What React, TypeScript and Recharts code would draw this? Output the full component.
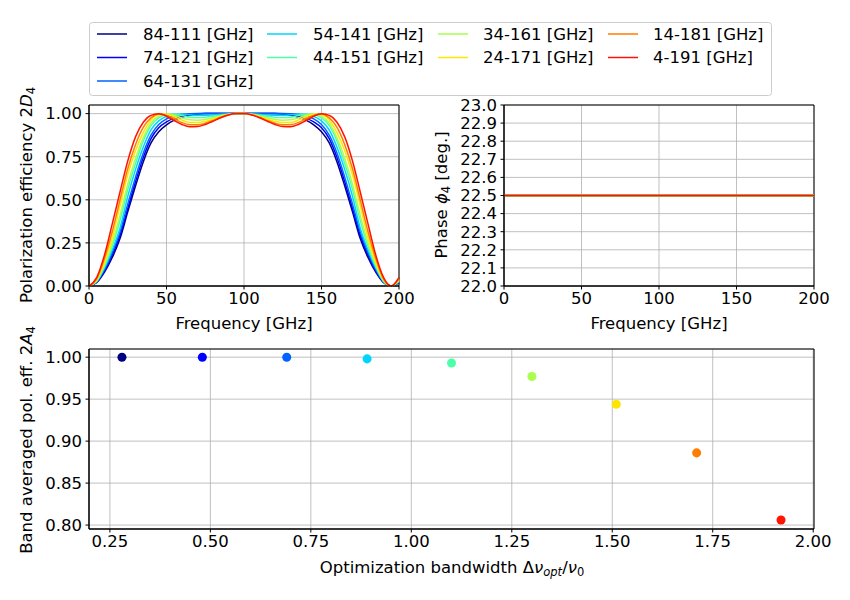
import React from "react";
import {
  LineChart,
  Line,
  ScatterChart,
  Scatter,
  XAxis,
  YAxis,
  ZAxis,
  CartesianGrid,
  ReferenceArea,
} from "recharts";

// optimization bands, one per curve
const bandNames = [
  "84-111 [GHz]",
  "74-121 [GHz]",
  "64-131 [GHz]",
  "54-141 [GHz]",
  "44-151 [GHz]",
  "34-161 [GHz]",
  "24-171 [GHz]",
  "14-181 [GHz]",
  "4-191 [GHz]",
];
const bandColors = [
  "#000080",
  "#0000ff",
  "#0063ff",
  "#00d4ff",
  "#4dffa9",
  "#a9ff4d",
  "#ffe600",
  "#ff7d00",
  "#ff1400",
];

const freqs = [
  0, 5, 10, 15, 20, 25, 30, 35, 40, 45, 50, 55, 60, 65, 70, 75, 80, 85, 90, 95,
  100, 105, 110, 115, 120, 125, 130, 135, 140, 145, 150, 155, 160, 165, 170, 175,
  180, 185, 190, 195, 200,
];

// polarization efficiency 2D_4 per band
const eff84 = [
  0, 0.02, 0.08, 0.165, 0.275, 0.43, 0.58, 0.72, 0.83, 0.895, 0.935, 0.962, 0.98, 0.991, 0.997, 1, 1, 1, 1, 1,
  1, 1, 1, 1, 1, 0.997, 0.991, 0.98, 0.962, 0.935, 0.895, 0.83, 0.72, 0.58, 0.43, 0.275, 0.165, 0.08, 0.02, 0, 0.02,
];
const eff74 = [
  0, 0.022, 0.088, 0.18, 0.295, 0.45, 0.605, 0.745, 0.855, 0.918, 0.952, 0.974, 0.988, 0.996, 0.999, 1, 1, 1, 1, 1,
  1, 1, 1, 1, 1, 0.999, 0.996, 0.988, 0.974, 0.952, 0.918, 0.855, 0.745, 0.605, 0.45, 0.295, 0.18, 0.088, 0.022, 0, 0.022,
];
const eff64 = [
  0, 0.024, 0.096, 0.195, 0.315, 0.475, 0.63, 0.77, 0.875, 0.937, 0.97, 0.988, 0.996, 0.999, 1, 1, 1, 1, 1, 1,
  1, 1, 1, 1, 1, 1, 0.999, 0.996, 0.988, 0.97, 0.937, 0.875, 0.77, 0.63, 0.475, 0.315, 0.195, 0.096, 0.024, 0, 0.024,
];
const eff54 = [
  0, 0.026, 0.105, 0.21, 0.335, 0.52, 0.675, 0.805, 0.905, 0.958, 0.984, 0.996, 0.997, 0.993, 0.99, 0.99, 0.992, 0.995, 0.998, 1,
  1, 0.998, 0.995, 0.992, 0.99, 0.99, 0.993, 0.997, 0.996, 0.984, 0.958, 0.905, 0.805, 0.675, 0.52, 0.335, 0.21, 0.105, 0.026, 0, 0.026,
];
const eff44 = [
  0, 0.029, 0.115, 0.23, 0.38, 0.56, 0.71, 0.84, 0.93, 0.975, 0.994, 0.997, 0.989, 0.979, 0.977, 0.979, 0.985, 0.991, 0.997, 1,
  1, 0.997, 0.991, 0.985, 0.979, 0.977, 0.979, 0.989, 0.997, 0.994, 0.975, 0.93, 0.84, 0.71, 0.56, 0.38, 0.23, 0.115, 0.029, 0, 0.029,
];
const eff34 = [
  0, 0.032, 0.125, 0.25, 0.41, 0.59, 0.74, 0.86, 0.945, 0.985, 0.998, 0.99, 0.975, 0.964, 0.962, 0.966, 0.976, 0.987, 0.996, 1,
  1, 0.996, 0.987, 0.976, 0.966, 0.962, 0.964, 0.975, 0.99, 0.998, 0.985, 0.945, 0.86, 0.74, 0.59, 0.41, 0.25, 0.125, 0.032, 0, 0.032,
];
const eff24 = [
  0, 0.036, 0.14, 0.28, 0.465, 0.645, 0.785, 0.89, 0.962, 0.993, 0.996, 0.982, 0.962, 0.949, 0.948, 0.955, 0.968, 0.983, 0.994, 1,
  1, 0.994, 0.983, 0.968, 0.955, 0.948, 0.949, 0.962, 0.982, 0.996, 0.993, 0.962, 0.89, 0.785, 0.645, 0.465, 0.28, 0.14, 0.036, 0, 0.036,
];
const eff14 = [
  0, 0.042, 0.16, 0.315, 0.5, 0.68, 0.82, 0.92, 0.975, 0.998, 0.99, 0.97, 0.948, 0.936, 0.935, 0.944, 0.961, 0.979, 0.993, 1,
  1, 0.993, 0.979, 0.961, 0.944, 0.935, 0.936, 0.948, 0.97, 0.99, 0.998, 0.975, 0.92, 0.82, 0.68, 0.5, 0.315, 0.16, 0.042, 0, 0.042,
];
const eff4 = [
  0, 0.05, 0.18, 0.36, 0.545, 0.725, 0.865, 0.95, 0.99, 0.999, 0.985, 0.96, 0.937, 0.924, 0.925, 0.937, 0.956, 0.976, 0.992, 1,
  1, 0.992, 0.976, 0.956, 0.937, 0.925, 0.924, 0.937, 0.96, 0.985, 0.999, 0.99, 0.95, 0.865, 0.725, 0.545, 0.36, 0.18, 0.05, 0, 0.05,
];
const effSeries = [eff84, eff74, eff64, eff54, eff44, eff34, eff24, eff14, eff4];

// phase phi_4 [deg] per band (flat)
const phaseDeg = [22.5, 22.5, 22.5, 22.5, 22.5, 22.5, 22.5, 22.5, 22.5];

// band averaged efficiency vs optimization bandwidth
const bandwidth = [0.28, 0.48, 0.69, 0.89, 1.1, 1.3, 1.51, 1.71, 1.92];
const bandAvg = [1.0, 1.0, 1.0, 0.998, 0.993, 0.977, 0.944, 0.886, 0.806];

const effTicks = [0, 0.25, 0.5, 0.75, 1.0];
const freqTicks = [0, 50, 100, 150, 200];
const phaseTicks = [22.0, 22.1, 22.2, 22.3, 22.4, 22.5, 22.6, 22.7, 22.8, 22.9, 23.0];
const bwTicks = [0.25, 0.5, 0.75, 1.0, 1.25, 1.5, 1.75, 2.0];
const avgTicks = [0.8, 0.85, 0.9, 0.95, 1.0];

const effRows = freqs.map((f, i) => {
  const row: Record<string, number> = { f };
  effSeries.forEach((s, k) => (row["s" + k] = s[i]));
  return row;
});
const phaseRows = freqs.map((f) => {
  const row: Record<string, number> = { f };
  phaseDeg.forEach((p, k) => (row["s" + k] = p));
  return row;
});

const FONT = "DejaVu Sans";
const FS = 16.5;
const SUB = 11.5;
const tickStyle = { fill: "#000", fontSize: FS, fontFamily: FONT };
const gridColor = "#b0b0b0";

const legendCols = [
  [0, 1, 2],
  [3, 4],
  [5, 6],
  [7, 8],
];
const legendLineX = [97, 267, 438, 608];
const legendTextX = [143, 313, 483, 653];
const legendRowY = [34, 57.5, 81];

export default function App() {
  return (
    <div
      style={{
        position: "absolute",
        left: 0,
        top: 0,
        width: 850,
        height: 600,
        background: "#fff",
        fontFamily: FONT,
      }}>
      {/* top left: efficiency vs frequency */}
      <div style={{ position: "absolute", left: 0, top: 95 }}>
        <LineChart
          width={420}
          height={250}
          data={effRows}
          margin={{ top: 10, right: 21, bottom: 14, left: 0 }}>
          <CartesianGrid stroke={gridColor} strokeWidth={0.8} />
          <XAxis
            dataKey="f"
            type="number"
            domain={[0, 200]}
            ticks={freqTicks}
            interval={0}
            height={45}
            tick={tickStyle}
            tickSize={3.5}
            tickMargin={3}
            stroke="#000"
          />
          <YAxis
            type="number"
            domain={[0, 1.05]}
            ticks={effTicks}
            interval={0}
            width={89}
            tick={tickStyle}
            tickSize={3.5}
            tickMargin={3.5}
            stroke="#000"
            tickFormatter={(v) => v.toFixed(2)}
          />
          {effSeries.map((_, k) => (
            <Line
              key={k}
              dataKey={"s" + k}
              type="monotone"
              stroke={bandColors[k]}
              strokeWidth={1.5}
              dot={false}
              isAnimationActive={false}
            />
          ))}
          <ReferenceArea x1={0} x2={200} y1={0} y2={1.05} fill="none" stroke="#000" strokeWidth={1} />
        </LineChart>
      </div>

      {/* top right: phase vs frequency */}
      <div style={{ position: "absolute", left: 420, top: 95 }}>
        <LineChart
          width={430}
          height={250}
          data={phaseRows}
          margin={{ top: 10, right: 36, bottom: 14, left: 0 }}>
          <CartesianGrid stroke={gridColor} strokeWidth={0.8} />
          <XAxis
            dataKey="f"
            type="number"
            domain={[0, 200]}
            ticks={freqTicks}
            interval={0}
            height={45}
            tick={tickStyle}
            tickSize={3.5}
            tickMargin={3}
            stroke="#000"
          />
          <YAxis
            type="number"
            domain={[22, 23]}
            ticks={phaseTicks}
            interval={0}
            width={84}
            tick={tickStyle}
            tickSize={3.5}
            tickMargin={3.5}
            stroke="#000"
            tickFormatter={(v) => v.toFixed(1)}
          />
          {phaseDeg.map((_, k) => (
            <Line
              key={k}
              dataKey={"s" + k}
              type="linear"
              stroke={bandColors[k]}
              strokeWidth={1.5}
              dot={false}
              isAnimationActive={false}
            />
          ))}
          <ReferenceArea x1={0} x2={200} y1={22} y2={23} fill="none" stroke="#000" strokeWidth={1} />
        </LineChart>
      </div>

      {/* bottom: band averaged efficiency */}
      <div style={{ position: "absolute", left: 0, top: 340 }}>
        <ScatterChart
          width={850}
          height={260}
          margin={{ top: 9, right: 36, bottom: 26, left: 0 }}>
          <CartesianGrid stroke={gridColor} strokeWidth={0.8} />
          <XAxis
            dataKey="bw"
            type="number"
            domain={[0.198, 2.002]}
            ticks={bwTicks}
            interval={0}
            height={45}
            tick={tickStyle}
            tickSize={3.5}
            tickMargin={3}
            stroke="#000"
            tickFormatter={(v) => v.toFixed(2)}
          />
          <YAxis
            dataKey="avg"
            type="number"
            domain={[0.7953, 1.00975]}
            ticks={avgTicks}
            interval={0}
            width={89}
            tick={tickStyle}
            tickSize={3.5}
            tickMargin={3.5}
            stroke="#000"
            tickFormatter={(v) => v.toFixed(2)}
          />
          <ZAxis range={[72, 72]} />
          {bandwidth.map((bw, k) => (
            <Scatter
              key={k}
              data={[{ bw, avg: bandAvg[k] }]}
              fill={bandColors[k]}
              shape="circle"
              isAnimationActive={false}
            />
          ))}
          <ReferenceArea
            x1={0.198}
            x2={2.002}
            y1={0.7953}
            y2={1.00975}
            fill="none"
            stroke="#000"
            strokeWidth={1}
          />
        </ScatterChart>
      </div>

      {/* titles and legend */}
      <svg
        width={850}
        height={600}
        style={{ position: "absolute", left: 0, top: 0, pointerEvents: "none" }}
        fontFamily={FONT}
        fontSize={FS}
        fill="#000">
        <text transform="translate(26,195) rotate(-90)" textAnchor="middle" dominantBaseline="central">
          Polarization efficiency 2<tspan fontStyle="italic">D</tspan>
          <tspan fontSize={SUB} dy={5}>4</tspan>
        </text>
        <text x={244} y={323} textAnchor="middle" dominantBaseline="central">
          Frequency [GHz]
        </text>
        <text transform="translate(441,195) rotate(-90)" textAnchor="middle" dominantBaseline="central">
          Phase <tspan fontStyle="italic">ϕ</tspan>
          <tspan fontSize={SUB} dy={5}>4</tspan>
          <tspan dy={-5}> [deg.]</tspan>
        </text>
        <text x={659} y={323} textAnchor="middle" dominantBaseline="central">
          Frequency [GHz]
        </text>
        <text transform="translate(26,440) rotate(-90)" textAnchor="middle" dominantBaseline="central">
          Band averaged pol. eff. 2<tspan fontStyle="italic">A</tspan>
          <tspan fontSize={SUB} dy={5}>4</tspan>
        </text>
        <text x={452} y={567} textAnchor="middle" dominantBaseline="central">
          Optimization bandwidth Δ<tspan fontStyle="italic">ν</tspan>
          <tspan fontStyle="italic" fontSize={SUB} dy={5}>opt</tspan>
          <tspan dy={-5}>/</tspan>
          <tspan fontStyle="italic">ν</tspan>
          <tspan fontSize={SUB} dy={5}>0</tspan>
        </text>

        <rect x={89.5} y={22.5} width={682} height={73} rx={3} fill="#fff" stroke="#cccccc" strokeWidth={1} />
        {legendCols.map((col, c) =>
          col.map((k, r) => (
            <g key={k}>
              <line
                x1={legendLineX[c]}
                x2={legendLineX[c] + 30}
                y1={legendRowY[r]}
                y2={legendRowY[r]}
                stroke={bandColors[k]}
                strokeWidth={1.5}
              />
              <text x={legendTextX[c]} y={legendRowY[r]} dominantBaseline="central">
                {bandNames[k]}
              </text>
            </g>
          ))
        )}
      </svg>
    </div>
  );
}
